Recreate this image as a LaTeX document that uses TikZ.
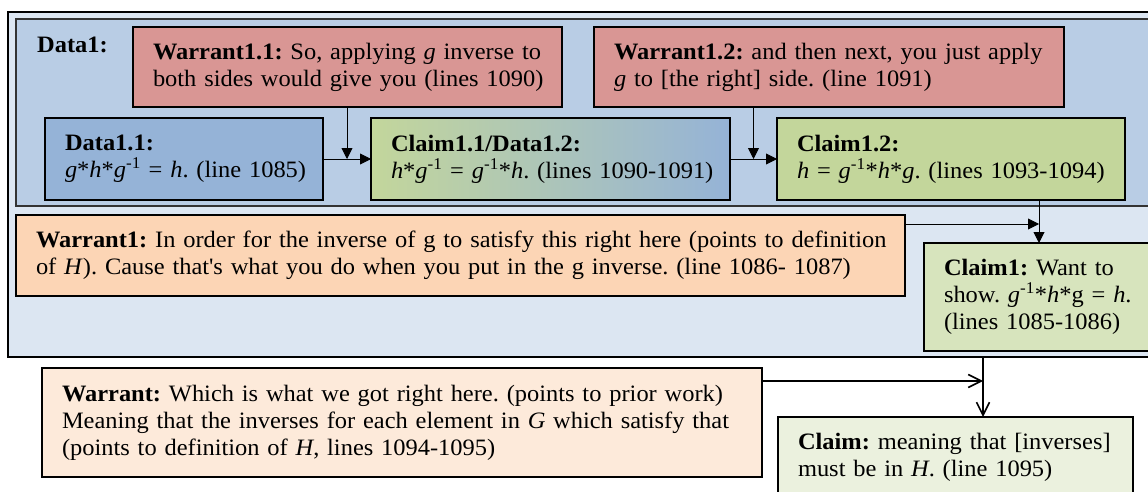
\documentclass[tikz,border=0pt]{standalone}
\usepackage{fontspec}
\setmainfont{Liberation Serif}[FakeStretch=1.04]
\usetikzlibrary{arrows.meta,calc}

\definecolor{ctxfill}{HTML}{DCE6F2}
\definecolor{datafill}{HTML}{B9CDE5}
\definecolor{warrfill}{HTML}{D99694}
\definecolor{dbluefill}{HTML}{95B3D7}
\definecolor{claimfill}{HTML}{C3D69B}
\definecolor{wonefill}{HTML}{FCD5B5}
\definecolor{conefill}{HTML}{D7E4BD}
\definecolor{wfill}{HTML}{FDEADA}
\definecolor{cfill}{HTML}{EBF1DE}

\newcommand\inv{\textsuperscript{-1}}
\newcommand\vi[1]{\textit{#1}}
\newcommand\tl[1]{\mbox{#1}}
\frenchspacing

\begin{document}
\begin{tikzpicture}[x=1pt,y=-1pt,
  every node/.style={font=\fontsize{23.5}{27}\selectfont},
  tbox/.style={draw=black, line width=1.2pt, inner xsep=20pt, inner ysep=0pt,
    outer sep=0pt, align=left, anchor=north west},
  area/.style={line width=1.3pt, outer sep=0pt, inner sep=0pt, anchor=north west},
  conn/.style={line width=0.9pt, -{Triangle[length=11pt,width=11pt]}},
  openconn/.style={line width=1.8pt, -{Straight Barb[length=13pt,width=13pt,line width=1.6pt]}}
]
\useasboundingbox (0,0) rectangle (1148,492);
\clip (0,0) rectangle (1148,492);

% containers
\node[area, draw=black, fill=ctxfill, minimum width=1170pt, minimum height=345pt]
  (ctx) at (8,12) {};
\node[area, draw=black!80, fill=datafill, minimum width=1160pt, minimum height=187pt]
  (data1) at (16,19) {};
\node[anchor=base west, inner sep=0pt] (d1lbl) at (37,53) {\textbf{Data1:}};

% inner argument
\node[tbox, fill=warrfill, text width=389pt, minimum height=80pt] (w11) at (133,27)
  {\tl{\textbf{Warrant1.1:} So, applying \vi{g} inverse to}\\
   \tl{both sides would give you (lines 1090)}};
\node[tbox, fill=warrfill, text width=430pt, minimum height=80pt] (w12) at (594,27)
  {\tl{\textbf{Warrant1.2:} and then next, you just apply}\\
   \tl{\vi{g} to [the right] side. (line 1091)}};
\node[tbox, fill=dbluefill, text width=238pt, minimum height=82pt] (d11) at (45,118)
  {\tl{\textbf{Data1.1:}}\\
   \tl{\vi{g}*\vi{h}*\vi{g}\inv{} = \vi{h}. (line 1085)}};
\node[tbox, left color=claimfill, right color=dbluefill, text width=319pt, minimum height=82pt] (c11) at (371,118)
  {\tl{\textbf{Claim1.1/Data1.2:}}\\
   \tl{\vi{h}*\vi{g}\inv{} = \vi{g}\inv*\vi{h}. (lines 1090-1091)}};
\node[tbox, fill=claimfill, text width=308pt, minimum height=82pt] (c12) at (777,118)
  {\tl{\textbf{Claim1.2:}}\\
   \tl{\vi{h} = \vi{g}\inv*\vi{h}*\vi{g}. (lines 1093-1094)}};

% outer argument
\node[tbox, fill=wonefill, text width=849pt, minimum height=81pt] (w1) at (16,215)
  {\tl{\textbf{Warrant1:} In order for the inverse of g to satisfy this right here (points to definition}\\
   \tl{of \vi{H}). Cause that\textquotesingle s what you do when you put in the g inverse. (line 1086- 1087)}};
\node[tbox, fill=conefill, text width=216pt, minimum height=108pt] (c1) at (924,243)
  {\tl{\textbf{Claim1:} Want to}\\
   \tl{show. \vi{g}\inv*\vi{h}*g = \vi{h}.}\\
   \tl{(lines 1085-1086)}};

% final argument
\node[tbox, fill=wfill, text width=680pt, minimum height=109pt] (w) at (42,368)
  {\tl{\textbf{Warrant:} Which is what we got right here. (points to prior work)}\\
   \tl{Meaning that the inverses for each element in \vi{G} which satisfy that}\\
   \tl{(points to definition of \vi{H}, lines 1094-1095)}};
\node[tbox, fill=cfill, text width=315pt, minimum height=80pt] (c) at (778,417)
  {\tl{\textbf{Claim:} meaning that [inverses]}\\
   \tl{must be in \vi{H}. (line 1095)}};

% connectors
\coordinate (g1) at ($(d11.east)!0.5!(c11.west)$);
\coordinate (g2) at ($(c11.east)!0.5!(c12.west)$);
\draw[conn] (d11.east) -- (c11.west);
\draw[conn] (w11.south -| g1) -- (g1);
\draw[conn] (c11.east) -- (c12.west);
\draw[conn] (w12.south -| g2) -- (g2);

\coordinate (j1) at (1039,224);
\draw[conn] (c12.south -| j1) -- (c1.north -| j1);
\draw[conn] (w1.east |- j1) -- (j1);

\coordinate (j2) at (983,381);
\draw[openconn] (ctx.south -| j2) -- (c.north -| j2);
\draw[openconn] (w.east |- j2) -- (j2);
\end{tikzpicture}
\end{document}
